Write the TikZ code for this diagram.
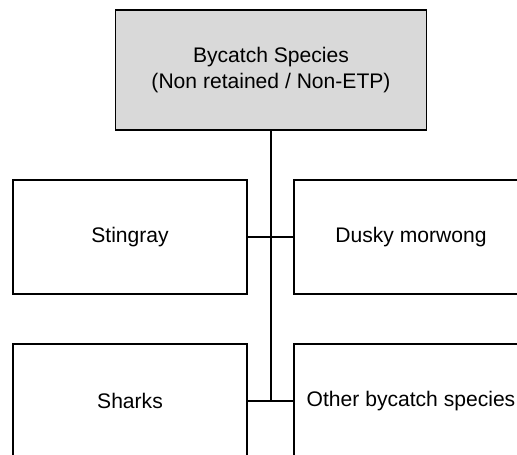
\documentclass[tikz,border=0pt]{standalone}
\usepackage{fontspec}
\setmainfont{Liberation Sans}

\definecolor{boxgray}{RGB}{217,217,217}

\begin{document}
\begin{tikzpicture}[x=0.02cm,y=-0.02cm,
		species/.style={draw, line width=1pt, minimum width=4.68cm, minimum height=2.28cm, align=center, font=\fontsize{12}{15}\selectfont},
		link/.style={line width=1pt}]
			\useasboundingbox (0,0) rectangle (517,454);
			\clip (0,0) rectangle (517,454);

			\node[species, fill=boxgray, minimum width=6.22cm, minimum height=2.4cm] (group) at (271,70) {Bycatch Species\\(Non retained / Non-ETP)};

			\node[species] (stingray) at (130,237) {Stingray};
			\node[species] (dusky) at (411,237) {Dusky morwong};
			\node[species] (sharks) at (130,401) {Sharks};
			\node[species] (other) at (411,401) {Other bycatch species};

			\draw[link] (group.south) -- (group.south |- sharks.east);
			\draw[link] (stingray.east) -- (dusky.west);
			\draw[link] (sharks.east) -- (other.west);
		\end{tikzpicture}
\end{document}
